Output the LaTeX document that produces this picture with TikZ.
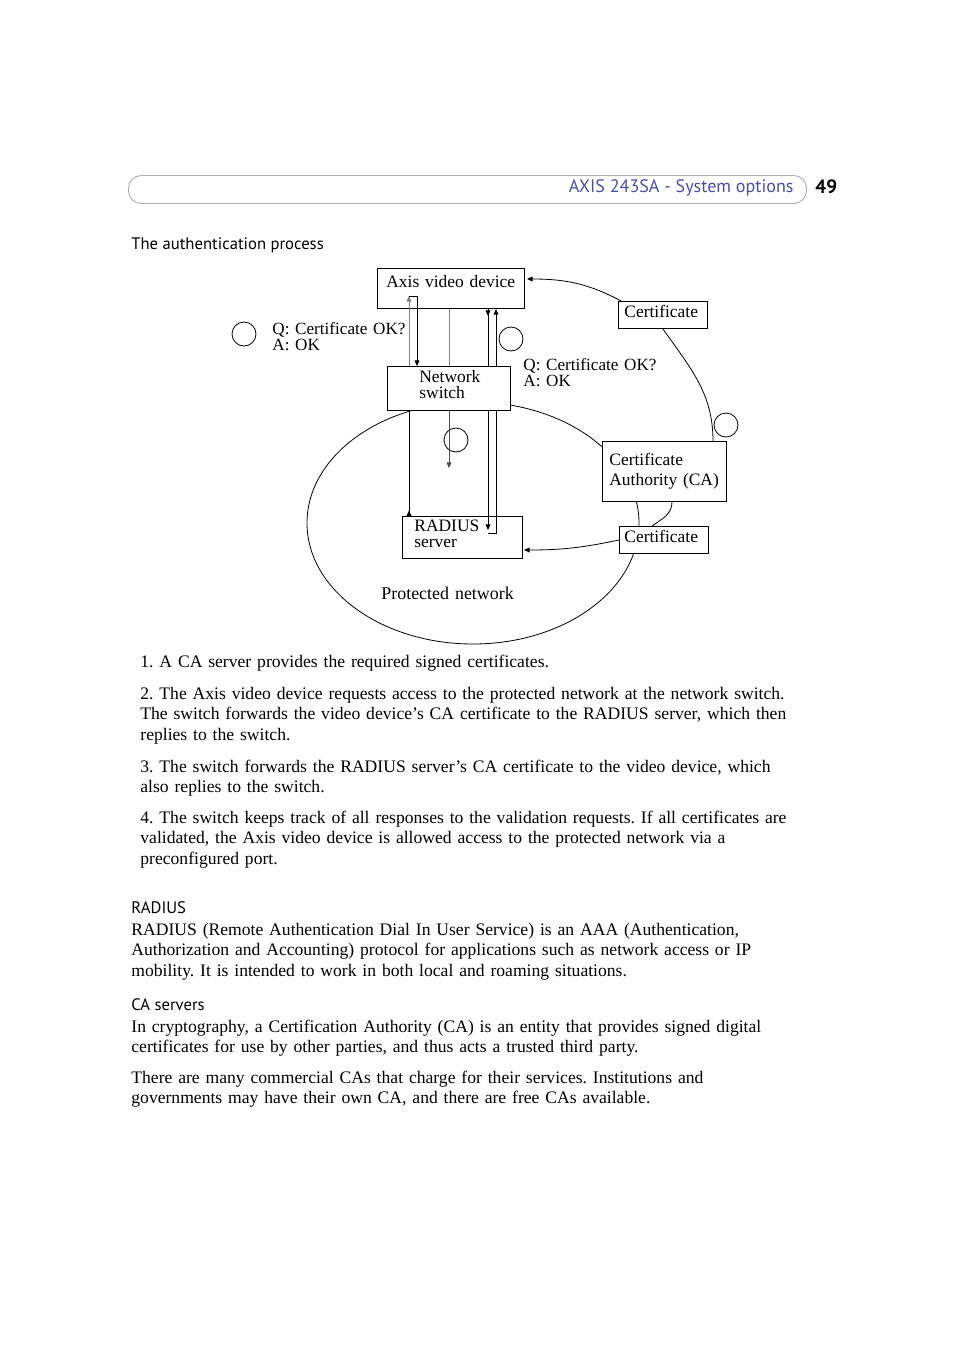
\documentclass[tikz,border=0pt]{standalone}
\usepackage{fontspec}
\setmainfont{Liberation Serif}
\newfontfamily\headfont{PT Sans}
\usetikzlibrary{arrows.meta, positioning}
\definecolor{axisblue}{RGB}{72, 80, 160}
\definecolor{barline}{RGB}{175, 175, 175}
\frenchspacing

\tikzset{
  box/.style={draw, fill=white, line width=0.6pt, inner sep=0pt, anchor=north west},
  lbl/.style={anchor=base west, inner sep=0pt, align=left, text width=110pt, font=\fontsize{10.9}{10.2}\selectfont},
  numcirc/.style={draw, circle, minimum size=15pt, inner sep=0pt, line width=0.5pt},
  arr/.style={-{Triangle[length=3.5pt, width=3pt]}},
  rarr/.style={-{Triangle[length=3.5pt, width=3pt, reversed]}},
  para/.style={anchor=base west, inner sep=0pt, align=left, text width=480pt, font=\fontsize{11}{12.9}\selectfont},
  head/.style={anchor=base west, inner sep=0pt, font=\headfont\fontsize{10.4}{12}\selectfont},
}

\begin{document}
\begin{tikzpicture}[x=0.625pt, y=-0.625pt, line width=0.5pt]
  \useasboundingbox (0,0) rectangle (954,1350);

  % page header
  \node[draw=barline, line width=0.6pt, rounded corners=8pt, minimum width=423.75pt, minimum height=17.5pt, anchor=north west] (bar) at (128,175) {};
  \node[head, anchor=base east, text=axisblue, font=\headfont\fontsize{11.3}{12}\selectfont] (title) at (794,192) {AXIS 243SA - System options};
  \node[head, font=\headfont\bfseries\fontsize{12}{12}\selectfont] (page) at (815,193) {49};
  \node[head] (caption) at (131,249) {The authentication process};

  % protected network
  \draw (473,523) ellipse [x radius=166, y radius=121];
  \node[lbl, font=\fontsize{11.2}{10.2}\selectfont] (net) at (381,599) {Protected network};

  % boxes
  \node[box, minimum width=91.875pt, minimum height=25pt] (axis) at (377,268) {};
  \node[box, minimum width=55.625pt, minimum height=16.875pt] (certA) at (618,301) {};
  \node[box, minimum width=76.875pt, minimum height=27.5pt] (switch) at (387,366) {};
  \node[box, minimum width=77.5pt, minimum height=37.5pt] (ca) at (602,441) {};
  \node[box, minimum width=75pt, minimum height=26.25pt] (radius) at (402,516) {};
  \node[box, minimum width=55.625pt, minimum height=16.875pt] (certB) at (619,526) {};

  \node[lbl] (axis-t) at (386,287) {Axis video device};
  \node[lbl] (certA-t) at (624,317) {Certificate};
  \node[lbl] (switch-t) at (419,382) {Network\\switch};
  \node[lbl] (ca-t) at (609,465) {Certificate\\[2.6pt]Authority (CA)};
  \node[lbl] (radius-t) at (414,531) {RADIUS\\server};
  \node[lbl] (certB-t) at (624,542) {Certificate};

  % questions
  \node[numcirc] (c1) at (244,334) {};
  \node[lbl, font=\fontsize{10.7}{10.4}\selectfont] (qa1) at (272,334) {Q: Certificate OK?\\A: OK};
  \node[numcirc] (c2) at (511,339) {};
  \node[lbl, font=\fontsize{10.7}{10.4}\selectfont] (qa2) at (523,370) {Q: Certificate OK?\\A: OK};
  \node[numcirc] (c3) at (456,440) {};
  \node[numcirc] (c4) at (726,425) {};

  % device <-> switch
  \draw[arr, gray] (409,0 |- switch.north) -- (409,296);
  \draw[arr] (409,296) -- (417,296) -- (417,0 |- switch.north);
  \draw[gray] (449,0 |- axis.south) -- (449,0 |- switch.north);
  \draw (488,0 |- axis.south) -- (488,0 |- switch.north);
  \draw[arr] (488,0 |- axis.south) -- (488,316);
  \draw[arr] (496,0 |- switch.north) -- (496,309);

  % switch <-> radius
  \draw[rarr] (409,0 |- switch.south) -- (409,0 |- radius.north);
  \draw[arr, gray!60!black] (449,0 |- switch.south) -- (449,468);
  \draw[arr] (488,0 |- switch.south) -- (488,530);
  \draw (488,533) -- (496,533) -- (496,0 |- switch.south);

  % certificates
  \draw[arr] ([xshift=2pt]certA.north west) to[out=152, in=0] (527,279);
  \draw (certA.south) to[out=-55, in=90] (713,0 |- ca.north);
  \draw (672,0 |- ca.south) to[out=-90, in=35] (652,0 |- certB.north);
  \draw[arr] (certB.west) to[out=192, in=0] (524,550);

  % text
  \node[para] (p1) at (140,667) {1. A CA server provides the required signed certificates.};
  \node[para] (p2) at (140,699) {2. The Axis video device requests access to the protected network at the network switch.\\The switch forwards the video device's CA certificate to the RADIUS server, which then\\replies to the switch.};
  \node[para] (p3) at (140,772) {3. The switch forwards the RADIUS server's CA certificate to the video device, which\\also replies to the switch.};
  \node[para] (p4) at (140,823) {4. The switch keeps track of all responses to the validation requests. If all certificates are\\validated, the Axis video device is allowed access to the protected network via a\\preconfigured port.};
  \node[head] (h-radius) at (131,913) {RADIUS};
  \node[para] (radius-p) at (131,935) {RADIUS (Remote Authentication Dial In User Service) is an AAA (Authentication,\\Authorization and Accounting) protocol for applications such as network access or IP\\mobility. It is intended to work in both local and roaming situations.};
  \node[head] (h-ca) at (131,1010) {CA servers};
  \node[para] (ca-p1) at (131,1032) {In cryptography, a Certification Authority (CA) is an entity that provides signed digital\\certificates for use by other parties, and thus acts a trusted third party.};
  \node[para] (ca-p2) at (131,1083) {There are many commercial CAs that charge for their services. Institutions and\\governments may have their own CA, and there are free CAs available.};
\end{tikzpicture}
\end{document}
